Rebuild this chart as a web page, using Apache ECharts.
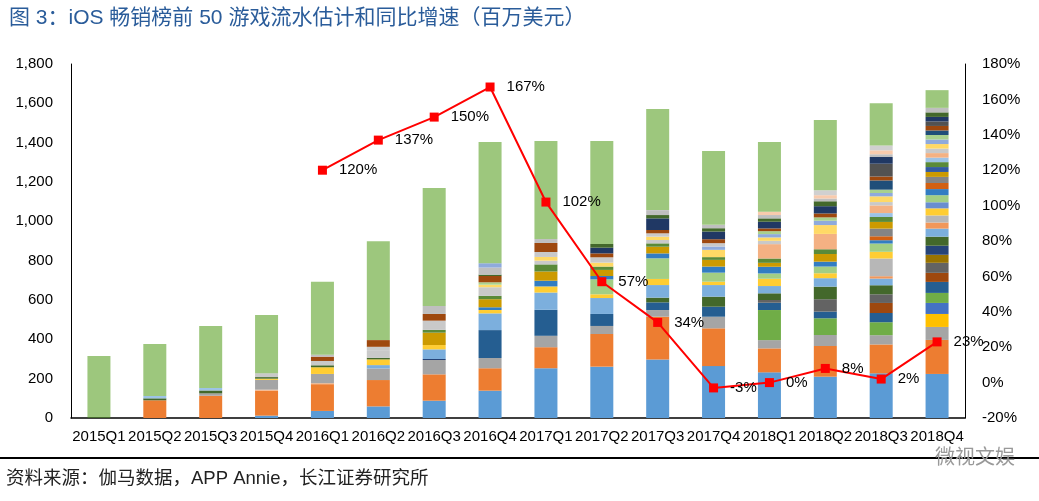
<!DOCTYPE html>
<html>
<head>
<meta charset="utf-8">
<script src="https://cdn.jsdelivr.net/npm/echarts@6/dist/echarts.min.js"></script>
<style>
html,body{margin:0;padding:0;background:#fff;}
#chart{width:1039px;height:501px;}
</style>
</head>
<body>
<div id="chart"></div>
<script>
// ---- data ----
const quarters = ['2015Q1','2015Q2','2015Q3','2015Q4','2016Q1','2016Q2','2016Q3','2016Q4','2017Q1','2017Q2','2017Q3','2017Q4','2018Q1','2018Q2','2018Q3','2018Q4'];
const growth = [null,null,null,null,120,137,150,167,102,57,34,-3,0,8,2,23];

const g01 = [0,0,0,12,36,59,88,139,253,261,298,264,232,210,227,224];
const g02 = [0,90,113,127,136,134,134,114,107,166,217,192,122,156,147,173];
const g03 = [0,0,0,5,5,0,0,0,0,0,0,0,0,0,0,0];
const g04 = [0,0,12,50,47,59,73,52,58,41,34,59,42,56,47,66];
const g05 = [0,0,0,0,0,0,0,0,0,0,0,0,0,0,0,66];
const g06 = [0,0,0,0,0,0,0,0,0,0,0,0,0,0,0,56];
const g07 = [0,0,0,0,0,0,0,0,0,0,0,0,153,85,66,51];
const g08 = [0,0,0,0,0,0,5,0,0,0,0,0,0,0,0,0];
const g09 = [0,0,0,0,0,0,0,142,132,61,39,51,37,34,47,56];
const g10 = [0,0,0,0,0,0,0,0,0,0,0,0,0,0,51,46];
const g11 = [0,0,0,0,0,0,0,0,0,0,0,0,14,63,44,51];
const g12 = [0,0,0,0,0,0,0,0,0,0,0,0,0,0,0,41];
const g13 = [0,0,0,0,0,0,0,0,0,0,0,0,0,0,0,46];
const g14 = [5,0,0,0,0,0,0,0,0,0,24,51,34,64,46,46];
const g15 = [0,0,0,0,0,17,49,85,88,81,64,59,37,43,34,41];
const g16 = [0,0,0,0,0,0,0,0,0,0,0,0,0,0,12,31];
const g17 = [0,0,0,0,0,0,0,0,0,0,0,0,0,0,90,36];
const g18 = [0,0,0,6,34,29,22,17,31,19,31,17,37,25,34,36];
const g19 = [0,10,15,8,10,8,0,0,0,0,0,0,0,0,0,0];
const g20 = [0,0,0,0,0,0,0,0,0,0,0,0,0,0,0,31];
const g21 = [0,0,0,0,0,0,0,0,0,76,105,46,27,34,42,36];
const g22 = [0,0,0,0,0,0,0,14,29,17,25,31,34,25,17,31];
const g23 = [0,0,0,0,0,0,0,0,0,0,0,0,0,0,20,31];
const g24 = [0,0,0,0,0,0,0,0,0,0,0,0,0,0,39,31];
const g25 = [0,0,0,0,0,0,63,41,47,31,34,34,20,39,34,25];
const g26 = [0,0,0,0,0,0,0,0,0,0,0,0,0,0,0,25];
const g27 = [0,0,0,0,0,0,14,17,36,17,17,14,22,24,25,25];
const g28 = [0,12,13,0,0,0,0,0,0,0,0,0,0,0,20,23];
const g29 = [0,0,0,0,0,0,0,0,0,0,0,0,73,78,39,23];
const g30 = [0,0,0,0,0,39,47,44,19,0,17,0,17,0,17,23];
const g31 = [0,0,0,0,0,0,0,13,19,20,17,37,17,45,29,23];
const g32 = [0,0,0,0,0,0,0,0,0,0,0,17,17,22,17,23];
const g33 = [0,0,0,0,0,0,0,12,0,0,0,0,15,17,17,23];
const g34 = [0,0,0,0,0,0,0,0,0,0,0,0,0,0,47,23];
const g35 = [0,0,0,20,22,17,0,0,25,27,17,17,0,0,0,0];
const g36 = [0,0,0,0,22,34,34,32,46,20,17,20,14,20,20,23];
const g37 = [0,0,0,0,0,0,0,0,0,0,0,0,0,0,65,23];
const g38 = [0,0,0,0,0,0,0,0,0,29,59,39,34,37,34,23];
const g39 = [0,0,0,0,0,0,0,7,0,19,17,17,17,25,0,23];
const g40 = [0,0,0,0,10,0,41,36,20,0,25,17,17,14,14,23];
const g41 = [0,0,0,0,0,0,0,0,0,0,0,0,17,17,20,0];
const g42 = [0,0,0,0,0,0,0,0,0,0,0,0,0,25,25,0];
const g43 = [0,0,0,0,0,0,0,22,0,0,0,0,0,0,0,0];
const others = [310,264,315,296,371,503,600,617,498,523,514,375,354,357,215,90];

const leftTicks = {min: 0, max: 1800, interval: 200};
const rightTicks = {min: -20, max: 180, interval: 20};

// ---- styles ----
const games = [g01,g02,g03,g04,g05,g06,g07,g08,g09,g10,g11,g12,g13,g14,g15,g16,g17,g18,g19,g20,g21,g22,g23,g24,g25,g26,g27,g28,g29,g30,g31,g32,g33,g34,g35,g36,g37,g38,g39,g40,g41,g42,g43];
const palette = ['#5B9BD5','#ED7D31','#F4B183','#A5A5A5','#FFC000','#4472C4','#70AD47','#264478','#255E91','#9E480E',
  '#636363','#997300','#264478','#43682B','#7CAFDD','#F1975A','#B7B7B7','#FFCD33','#43682B','#698ED0',
  '#A2CE84','#327DC2','#D26012','#848484','#CC9A00','#335AA1','#5A8A39','#9DC3E6','#F4B183','#C9C9C9',
  '#FFD966','#8FAADC','#A9D18E','#1F4E79','#C9C9C9','#9E480E','#525252','#203864','#43682B','#BFBFBF',
  '#F8CBAD','#D0D0D0','#8FAADC'];
const otherColor = '#9DC77D';
const FONT = '"Liberation Sans", Arial, "Noto Sans CJK SC", sans-serif';

const series = games.map((arr, i) => ({
  name: '游戏' + (i + 1),
  type: 'bar',
  stack: 'total',
  barWidth: 23,
  itemStyle: {color: palette[i]},
  emphasis: {disabled: true},
  data: arr
}));
series.push({
  name: '其他', type: 'bar', stack: 'total', barWidth: 23,
  itemStyle: {color: otherColor}, emphasis: {disabled: true}, data: others
});
series.push({
  name: '同比增速', type: 'line', yAxisIndex: 1, z: 10,
  data: growth,
  symbol: 'rect', symbolSize: 9,
  lineStyle: {color: '#FF0000', width: 2},
  itemStyle: {color: '#FF0000'},
  label: {show: true, position: 'right', distance: 12, color: '#000', fontSize: 15, fontFamily: FONT,
    formatter: p => p.value + '%'}
});

const chart = echarts.init(document.getElementById('chart'), null, {renderer: 'canvas'});
chart.setOption({
  animation: false,
  backgroundColor: '#fff',
  textStyle: {fontFamily: FONT},
  title: {
    text: '图 3：iOS 畅销榜前 50 游戏流水估计和同比增速（百万美元）',
    left: 4, top: 3,
    textStyle: {color: '#2A5C9A', fontSize: 21, fontWeight: 'normal', fontFamily: FONT}
  },
  grid: {left: 71, right: 74, top: 64, bottom: 83},
  xAxis: {
    type: 'category', data: quarters,
    axisLine: {lineStyle: {color: '#000', width: 1.5}},
    axisTick: {show: false},
    axisLabel: {color: '#000', fontSize: 15, margin: 11, interval: 0, fontFamily: FONT}
  },
  yAxis: [{
    type: 'value', min: leftTicks.min, max: leftTicks.max, interval: leftTicks.interval,
    axisLine: {show: true, lineStyle: {color: '#000'}},
    axisTick: {show: false},
    splitLine: {show: false},
    axisLabel: {color: '#000', fontSize: 15, margin: 18, fontFamily: FONT,
      formatter: v => v.toLocaleString('en-US')}
  }, {
    type: 'value', min: rightTicks.min, max: rightTicks.max, interval: rightTicks.interval,
    position: 'right',
    axisLine: {show: true, lineStyle: {color: '#000'}},
    axisTick: {show: false},
    splitLine: {show: false},
    axisLabel: {color: '#000', fontSize: 15, margin: 17, fontFamily: FONT, formatter: '{value}%'}
  }],
  graphic: [
    {type: 'rect', shape: {x: 0, y: 457, width: 1039, height: 2}, style: {fill: '#000'}, silent: true},
    {type: 'text', left: 6, top: 470, style: {text: '资料来源：伽马数据，APP Annie，长江证券研究所', fill: '#222', fontSize: 18.5, fontFamily: FONT}},
    {type: 'text', left: 935, top: 448, style: {text: '微视文娱', fill: '#999', fontSize: 20, fontFamily: FONT}}
  ],
  series: series
});
</script>
</body>
</html>
